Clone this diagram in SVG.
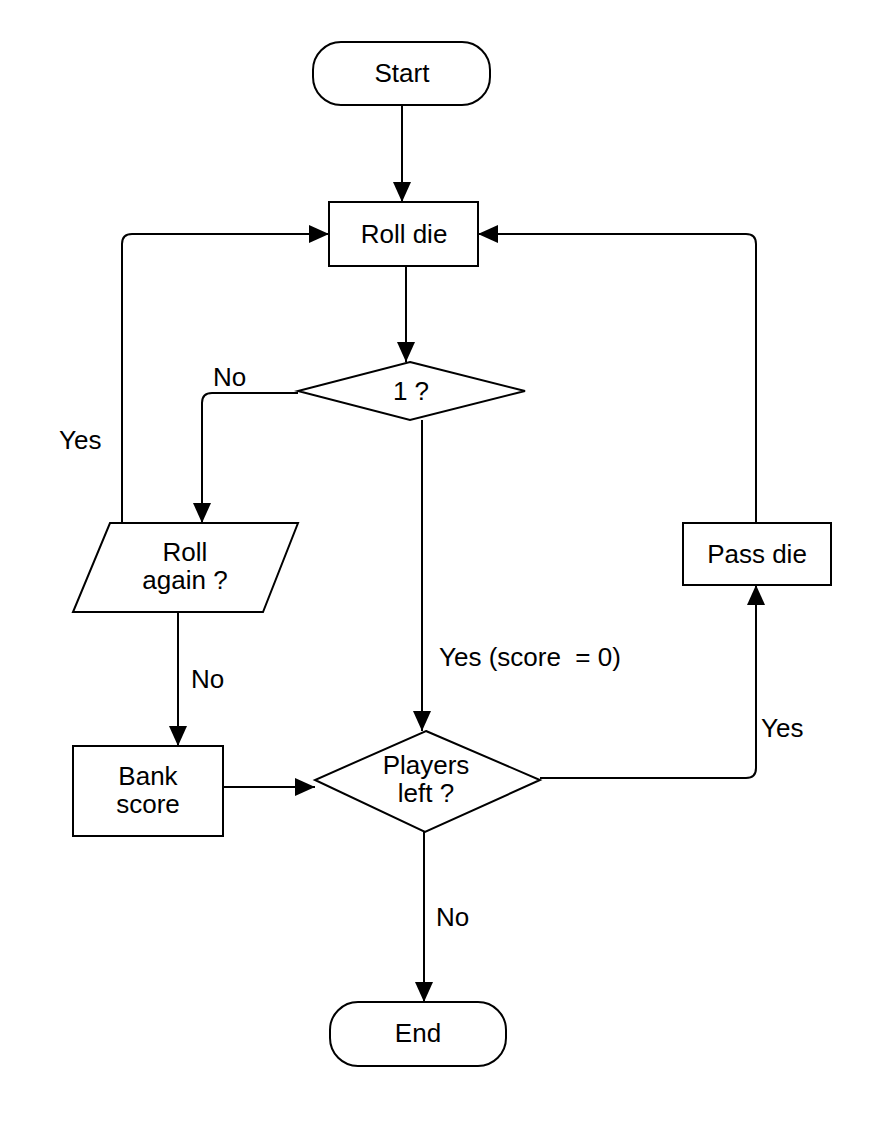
<svg xmlns="http://www.w3.org/2000/svg" width="872" height="1124" viewBox="0 0 872 1124">
<style>
.shape{fill:#fff;stroke:#000;stroke-width:2}
.t{font-family:"Liberation Sans",Arial,sans-serif;font-size:26px;fill:#000;text-anchor:middle}
.lbl{font-family:"Liberation Sans",Arial,sans-serif;font-size:26px;fill:#000;white-space:pre}
.edge{fill:none;stroke:#000;stroke-width:2;marker-end:url(#arr)}
</style>
<defs>
<marker id="arr" markerUnits="userSpaceOnUse" markerWidth="22" markerHeight="20" refX="20" refY="9" orient="auto">
<path d="M0,0 L20,9 L0,18 z" fill="#000"/>
</marker>
</defs>
<rect width="872" height="1124" fill="#fff"/>
<g id="connectors">
<path class="edge" d="M402,105 V202"/>
<path class="edge" d="M406,266 V362"/>
<path class="edge" d="M298,393 H212 Q202,393 202,403 V523"/>
<path class="edge" d="M122,523 V244 Q122,234 132,234 H329"/>
<path class="edge" d="M422,420 V731"/>
<path class="edge" d="M178,612 V746"/>
<path class="edge" d="M223,787 H315"/>
<path class="edge" d="M540,778 H746 Q756,778 756,768 V585"/>
<path class="edge" d="M756,523 V244 Q756,234 746,234 H478"/>
<path class="edge" d="M424,832 V1002"/>
<text class="lbl" x="213" y="386">No</text>
<text class="lbl" x="59" y="449">Yes</text>
<text class="lbl" x="439" y="666" xml:space="preserve">Yes (score  = 0)</text>
<text class="lbl" x="191" y="688">No</text>
<text class="lbl" x="761" y="737">Yes</text>
<text class="lbl" x="436" y="926">No</text>
</g>
<g id="start">
<rect class="shape" x="313" y="42" width="177" height="63" rx="28" ry="28"/>
<text class="t" x="402" y="82">Start</text>
</g>
<g id="rollDie">
<rect class="shape" x="329" y="202" width="149" height="64"/>
<text class="t" x="404" y="243">Roll die</text>
</g>
<g id="isOne">
<polygon class="shape" points="410,362 525,391 410,420 298,391"/>
<text class="t" x="411" y="400">1 ?</text>
</g>
<g id="rollAgain">
<polygon class="shape" points="110,523 298,523 263,612 73,612"/>
<text class="t" x="185" y="561"><tspan x="185">Roll</tspan><tspan x="185" dy="28">again ?</tspan></text>
</g>
<g id="bankScore">
<rect class="shape" x="73" y="746" width="150" height="90"/>
<text class="t" x="148" y="785"><tspan x="148">Bank</tspan><tspan x="148" dy="28">score</tspan></text>
</g>
<g id="playersLeft">
<polygon class="shape" points="426,731 540,780 425,832 315,780"/>
<text class="t" x="426" y="774"><tspan x="426">Players</tspan><tspan x="426" dy="28">left ?</tspan></text>
</g>
<g id="passDie">
<rect class="shape" x="683" y="523" width="148" height="62"/>
<text class="t" x="757" y="563">Pass die</text>
</g>
<g id="end">
<rect class="shape" x="330" y="1002" width="176" height="64" rx="28" ry="28"/>
<text class="t" x="418" y="1042">End</text>
</g>
</svg>
